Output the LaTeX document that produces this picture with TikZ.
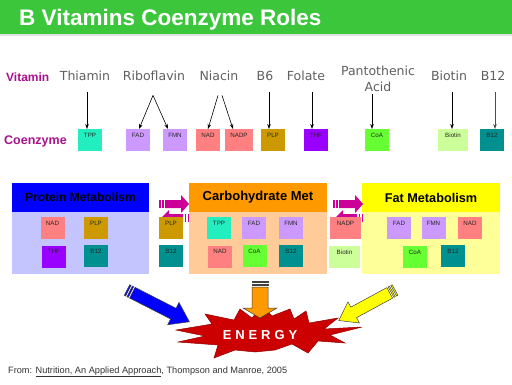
\documentclass[tikz,border=0pt]{standalone}
\usepackage{fontspec}
\setmainfont{Liberation Sans}
\newfontfamily\dvs{DejaVu Sans}
\newfontfamily\enfont[LetterSpace=30]{Liberation Sans}
\usetikzlibrary{arrows.meta,calc}
\definecolor{titlegreen}{HTML}{3CC63C}
\definecolor{vmag}{HTML}{A8128C}
\definecolor{vgray}{HTML}{606060}
\definecolor{cTPP}{HTML}{22EEC0}
\definecolor{cFAD}{HTML}{CC99FF}
\definecolor{cNAD}{HTML}{FF8080}
\definecolor{cPLP}{HTML}{CC9900}
\definecolor{cTHF}{HTML}{9900FF}
\definecolor{cCoA}{HTML}{66FF33}
\definecolor{cBio}{HTML}{CCFF99}
\definecolor{cB12}{HTML}{009090}
\definecolor{protH}{HTML}{0000FF}
\definecolor{protB}{HTML}{C4C4FF}
\definecolor{carbH}{HTML}{FF9900}
\definecolor{carbB}{HTML}{FFCC99}
\definecolor{fatH}{HTML}{FFFF00}
\definecolor{fatB}{HTML}{FFFF99}
\definecolor{mag}{HTML}{CC0099}
\definecolor{ered}{HTML}{CC0000}
\tikzset{
  cb/.style={minimum width=24pt, minimum height=22pt, inner sep=0pt, outer sep=0pt},
  cl/.style={anchor=north, inner sep=0pt, yshift=-4pt, font=\fontsize{6.2}{7}\selectfont, text=black!85},
  vn/.style={anchor=base, inner sep=0pt, text=vgray, font=\dvs\fontsize{12.5}{15.5}\selectfont},
  va/.style={-{Stealth[length=5pt,width=3.6pt]}, line width=0.6pt, black},
  hdr/.style={inner sep=0pt, outer sep=0pt, minimum height=29pt, text=black},
  bdy/.style={inner sep=0pt, outer sep=0pt, minimum height=62pt},
  arrline/.style={draw=black!75, line width=0.5pt},
  pics/blockarr/.style n args={5}{code={
    \path[fill=#5, arrline] (6,-#2) -- ({#1-#4},-#2) -- ({#1-#4},-#3) -- (#1,0) -- ({#1-#4},#3) -- ({#1-#4},#2) -- (6,#2) -- cycle;
    \path[fill=#5, arrline] (0,-#2) rectangle (1.5,#2);
    \path[fill=#5, arrline] (3,-#2) rectangle (4.5,#2);
  }}
}
\begin{document}
\begin{tikzpicture}[x=1pt,y=-1pt]
\useasboundingbox (0,0) rectangle (512,384);
\fill[white] (0,0) rectangle (512,384);
% title bar
\fill[titlegreen] (0,0) rectangle (512,34);
\fill[black!12] (0,34) rectangle (512,35.5);
\node[anchor=base west, inner sep=0pt, text=white, font=\bfseries\fontsize{22.5}{27}\selectfont] (title) at (19,25) {B Vitamins Coenzyme Roles};
% row labels
\node[anchor=base west, inner sep=0pt, text=vmag, font=\bfseries\fontsize{12}{14}\selectfont] (vitlab) at (6,81.5) {Vitamin};
\node[anchor=base west, inner sep=0pt, text=vmag, font=\bfseries\fontsize{12.5}{15}\selectfont] (coenz) at (4,144) {Coenzyme};
% vitamin names
\node[vn] (thiamin) at (85,80) {Thiamin};
\node[vn] (ribo) at (154,80) {Riboflavin};
\node[vn] (niacin) at (219,80) {Niacin};
\node[vn] (b6) at (265,80) {B6};
\node[vn] (folate) at (306,80) {Folate};
\node[vn, anchor=south, align=center] (panto) at (378,91.5) {Pantothenic\\Acid};
\node[vn] (biotinv) at (449,80) {Biotin};
\node[vn] (b12v) at (493,80) {B12};
% coenzyme boxes
\node[cb, fill=cTPP, label={[cl]north:TPP}] (tpp) at (90,140) {};
\node[cb, fill=cFAD, label={[cl]north:FAD}] (fad) at (138,140) {};
\node[cb, fill=cFAD, label={[cl]north:FMN}] (fmn) at (175,140) {};
\node[cb, fill=cNAD, label={[cl]north:NAD}] (nad) at (208,140) {};
\node[cb, fill=cNAD, minimum width=28pt, label={[cl]north:NADP}] (nadp) at (239,140) {};
\node[cb, fill=cPLP, label={[cl]north:PLP}] (plp) at (273,140) {};
\node[cb, fill=cTHF, label={[cl]north:THF}] (thf) at (316,140) {};
\node[cb, fill=cCoA, label={[cl]north:CoA}] (coa) at (377,140) {};
\node[cb, fill=cBio, minimum width=30pt, label={[cl]north:Biotin}] (biotin) at (453,140) {};
\node[cb, fill=cB12, label={[cl]north:B12}] (b12) at (492,140) {};
% vitamin -> coenzyme arrows
\draw[va] ($(tpp.north |- thiamin.south)+(-3,12)$) -- ($(tpp.north)+(-3,0)$);
\draw[va] ($(ribo.south)+(-1,15)$) -- ($(fad.north)+(1,0)$);
\draw[va] ($(ribo.south)+(-1,15)$) -- ($(fmn.north)+(-7,0)$);
\draw[va] ($(niacin.south)+(-1,15)$) -- (nad.north);
\draw[va] ($(niacin.south)+(3,15)$) -- ($(nadp.north)+(-6,0)$);
\draw[va] ($(plp.north |- b6.south)+(-4,12)$) -- ($(plp.north)+(-4,0)$);
\draw[va] ($(thf.north |- folate.south)+(-4,12)$) -- ($(thf.north)+(-4,0)$);
\draw[va] ($(coa.north |- panto.south)+(-5,2)$) -- ($(coa.north)+(-5,0)$);
\draw[va] ($(biotin.north |- biotinv.south)+(-1,12)$) -- ($(biotin.north)+(-1,0)$);
\draw[va, black!70] ($(b12.north |- b12v.south)+(3,12)$) -- ($(b12.north)+(3,0)$);
% metabolism panels
\node[hdr, fill=protH, minimum width=137pt, font=\bfseries\fontsize{12}{14}\selectfont] (protein) at (80.5,197.5) {Protein Metabolism};
\node[bdy, fill=protB, minimum width=137pt] (proteinbody) at (80.5,243) {};
\node[hdr, fill=carbH, minimum width=138pt, font=\bfseries\fontsize{13}{15}\selectfont] (carb) at (258,197.5) {Carbohydrate Met};
\node[bdy, fill=carbB, minimum width=138pt] (carbbody) at (258,243) {};
\node[hdr, fill=fatH, minimum width=138pt, font=\bfseries\fontsize{12.7}{15}\selectfont] (fat) at (431,197.5) {Fat Metabolism};
\node[bdy, fill=fatB, minimum width=138pt] (fatbody) at (431,243) {};
% protein inner boxes
\node[cb, fill=cNAD, label={[cl]north:NAD}] (pnad) at (52.5,228) {};
\node[cb, fill=cPLP, label={[cl]north:PLP}] (pplp) at (96,228) {};
\node[cb, fill=cTHF, label={[cl]north:THF}] (pthf) at (54,256.5) {};
\node[cb, fill=cB12, label={[cl]north:B12}] (pb12) at (96,256) {};
% carbohydrate inner boxes
\node[cb, fill=cTPP, label={[cl]north:TPP}] (ctpp) at (219,228) {};
\node[cb, fill=cFAD, label={[cl]north:FAD}] (cfad) at (254,228) {};
\node[cb, fill=cFAD, label={[cl]north:FMN}] (cfmn) at (291,228) {};
\node[cb, fill=cNAD, label={[cl]north:NAD}] (cnad) at (220,256.5) {};
\node[cb, fill=cCoA, label={[cl]north:CoA}] (ccoa) at (254.5,256) {};
\node[cb, fill=cB12, label={[cl]north:B12}] (cb12) at (291,255.5) {};
% fat inner boxes
\node[cb, fill=cFAD, label={[cl]north:FAD}] (ffad) at (399,228) {};
\node[cb, fill=cFAD, label={[cl]north:FMN}] (ffmn) at (433.5,228) {};
\node[cb, fill=cNAD, label={[cl]north:NAD}] (fnad) at (470,228) {};
\node[cb, fill=cCoA, label={[cl]north:CoA}] (fcoa) at (415,256.5) {};
\node[cb, fill=cB12, label={[cl]north:B12}] (fb12) at (453,255.5) {};
% magenta double arrows
\pic[arrline/.style={draw=none}] at (159,204) {blockarr={30}{4}{9}{8}{mag}};
\pic[rotate=180, arrline/.style={draw=none}] at (189,218) {blockarr={28}{4}{8}{8}{mag}};
\pic[arrline/.style={draw=none}] at (333,204) {blockarr={30}{4}{9}{8}{mag}};
\pic[rotate=180, arrline/.style={draw=none}] at (363,218) {blockarr={28}{4}{8}{8}{mag}};
% shared boxes between panels
\node[cb, fill=cPLP, label={[cl]north:PLP}] (splp) at (171,228) {};
\node[cb, fill=cB12, label={[cl]north:B12}] (sb12) at (171,256) {};
\node[cb, fill=cNAD, minimum width=31pt, label={[cl]north:NADP}] (snadp) at (345.5,228) {};
\node[cb, fill=cBio, minimum width=31pt, label={[cl]north:Biotin}] (sbio) at (344.5,257) {};
% energy star
\filldraw[fill=ered, draw=ered!70!black, line width=0.5pt]
  (176,330) -- (212,324) -- (205,314) -- (234,320) -- (240,309) -- (252,318) -- (262,306)
  -- (272,316) -- (290,309) -- (294,319) -- (306,311) -- (309,323) -- (338,318) -- (324,329)
  -- (362,327) -- (330,335) -- (345,343) -- (318,341) -- (308,353) -- (292,344) -- (275,350)
  -- (255,352) -- (235,350) -- (214,358) -- (218,345) -- (178,342) -- (205,336) -- cycle;
% big arrows into energy
\pic[rotate=-27] at (127,290) {blockarr={70}{6}{12.5}{18}{protH}};
\pic[rotate=-90] at (260,281) {blockarr={37}{8}{17}{10}{carbH}};
\pic[rotate=-151.5] at (395,290) {blockarr={64}{6}{12}{17}{fatH}};
\node[inner sep=0pt, text=white, font=\enfont\bfseries\fontsize{13}{15}\selectfont] (energy) at (260,335) {ENERGY};
% citation
\node[anchor=base west, inner sep=0pt, text=black!80, font=\fontsize{9.2}{11}\selectfont] (cite) at (8,373) {From: \underline{Nutrition, An Applied Approach}, Thompson and Manroe, 2005};
\end{tikzpicture}
\end{document}
